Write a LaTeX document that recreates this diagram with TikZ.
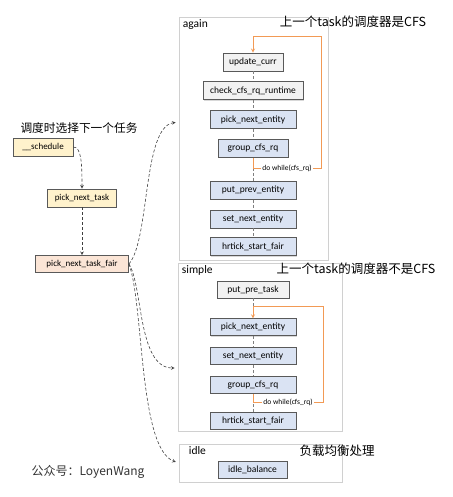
\documentclass[tikz,border=0pt]{standalone}
\usepackage{fontspec}
\setmainfont{Carlito}
\newfontfamily\cjk{Noto Sans CJK SC}
\usepackage{tikz}
\usetikzlibrary{arrows,positioning,shadows}

\definecolor{boxblue}{HTML}{DAE3F3}
\definecolor{boxgray}{HTML}{F2F2F2}
\definecolor{boxyellow}{HTML}{FFF2CC}
\definecolor{boxpeach}{HTML}{FBE5D6}
\definecolor{boxline}{HTML}{595959}
\definecolor{frameline}{HTML}{D0D0D0}
\definecolor{loopor}{HTML}{F29A55}
\definecolor{linkgray}{HTML}{7F7F7F}

\begin{document}
\begin{tikzpicture}
      [x=1pt, y=1pt, >=stealth, semithick, node distance=10pt,
      func/.style={rectangle, draw=boxline, line width=0.8pt, fill=boxblue,
        minimum width=86pt, minimum height=18pt, inner sep=1pt,
        font=\fontsize{9.5}{10}\selectfont,
        drop shadow={shadow xshift=0.8pt, shadow yshift=-0.8pt, opacity=0.3}},
      entry/.style={func, fill=boxyellow, font=\fontsize{9}{10}\selectfont},
      frame/.style={rectangle, draw=frameline, line width=0.8pt, fill=white,
        inner sep=0pt,
        drop shadow={shadow xshift=1pt, shadow yshift=-1pt, opacity=0.12}},
      framelbl/.style={inner xsep=4pt, inner ysep=2.5pt, font=\fontsize{11.5}{12}\selectfont},
      title/.style={inner sep=0pt, font=\cjk\fontsize{12.5}{13}\selectfont},
      whilelbl/.style={fill=white, inner sep=1pt, font=\fontsize{7.5}{8}\selectfont},
      link/.style={draw=linkgray, line width=0.8pt, densely dashed},
      loopline/.style={draw=loopor, line width=0.8pt, ->},
      callarrow/.style={->, draw=black!75, line width=0.6pt, densely dashed,
        shorten >=3pt}]

      \useasboundingbox (0,0) rectangle (452,-497);

      % the three paths of pick_next_task_fair
      \node [frame, minimum width=149pt, minimum height=243pt] (again) at (253.5,-138.5) {};
      \node [frame, minimum width=164pt, minimum height=168pt] (simple) at (260,-347) {};
      \node [frame, minimum width=163pt, minimum height=38pt] (idle) at (260.5,-463) {};

      \node [framelbl, anchor=north west] (againlbl) at (again.north west) {again};
      \node [framelbl, anchor=north west] (simplelbl) at (simple.north west) {simple};
      \node [framelbl, anchor=north west] (idlelbl) at ([xshift=6pt]idle.north west) {idle};

      \node [title] (againttl) at (353,-22) {上一个task的调度器是CFS};
      \node [title] (simplettl) at (356,-269) {上一个task的调度器不是CFS};
      \node [title] (idlettl) at (337,-451) {负载均衡处理};

      % left: call chain
      \node [title, font=\cjk\fontsize{11.7}{12}\selectfont] (calltl) at (79,-128) {调度时选择下一个任务};
      \node [entry, minimum width=60pt] (sched) at (43,-147) {\_\_schedule};
      \node [entry, minimum width=69pt] (pnt) at (82,-198) {pick\_next\_task};
      \node [entry, fill=boxpeach, minimum width=93pt, minimum height=17pt] (fair) at (82,-264) {pick\_next\_task\_fair};

      \node [title, font=\cjk\fontsize{12}{13}\selectfont, text=black!80] (wechat) at (88,-472) {公众号：LoyenWang};

      % again
      \node [func, fill=boxgray, minimum width=60pt] (upd) at (253,-62) {update\_curr};
      \node [func, fill=boxgray, minimum width=100pt, below=of upd] (chk) {check\_cfs\_rq\_runtime};
      \node [func, below=of chk] (pick1) {pick\_next\_entity};
      \node [func, minimum width=70pt, below=of pick1] (grp1) {group\_cfs\_rq};
      \node [func, below=23pt of grp1] (put1) {put\_prev\_entity};
      \node [func, below=of put1] (set1) {set\_next\_entity};
      \node [func, below=9pt of set1] (hrt1) {hrtick\_start\_fair};

      % simple
      \node [func, fill=boxgray, minimum width=72pt, minimum height=17pt] (put2) at (253,-289.5) {put\_pre\_task};
      \node [func, minimum height=17pt, below=20pt of put2] (pick2) {pick\_next\_entity};
      \node [func, minimum height=17pt, below=11pt of pick2] (set2) {set\_next\_entity};
      \node [func, minimum height=17pt, below=11pt of set2] (grp2) {group\_cfs\_rq};
      \node [func, minimum height=17pt, below=18pt of grp2] (hrt2) {hrtick\_start\_fair};

      % idle
      \node [func, minimum width=69pt, minimum height=17pt] (bal) at (252.5,-469.5) {idle\_balance};

      \draw [link] (upd) -- (chk);
      \draw [link] (chk) -- (pick1);
      \draw [link] (pick1) -- (grp1);
      \draw [link] (grp1) -- (put1);
      \draw [link] (put1) -- (set1);
      \draw [link] (set1) -- (hrt1);

      \draw [link] (put2) -- (pick2);
      \draw [link] (pick2) -- (set2);
      \draw [link] (set2) -- (grp2);
      \draw [link] (grp2) -- (hrt2);

      \draw [loopline] (grp1.south) -- ++(0,-11)
      -- node [whilelbl] (while1) {do while(cfs\_rq)} ++(68,0)
      |- ([yshift=16]upd.north) -- (upd.north);
      \draw [loopline] (grp2.south) -- ++(0,-9)
      -- node [whilelbl] (while2) {do while(cfs\_rq)} ++(70,0)
      |- ([yshift=12]pick2.north) -- (pick2.north);

      \draw [callarrow, shorten >=0pt] (sched.east) .. controls +(8,0) and +(0,25) .. (pnt.north);
      \draw [callarrow, shorten >=0pt] (pnt) -- (fair);
      \draw [callarrow] (fair.east) .. controls +(21,24) and +(-36,-5) .. ([yshift=16.5]again.west);
      \draw [callarrow] (fair.east) .. controls +(14,-21) and +(-40,0) .. ([yshift=-21]simple.west);
      \draw [callarrow] (fair.east) .. controls +(15,-40) and +(-40,15) .. (idle.west);
    \end{tikzpicture}
\end{document}
